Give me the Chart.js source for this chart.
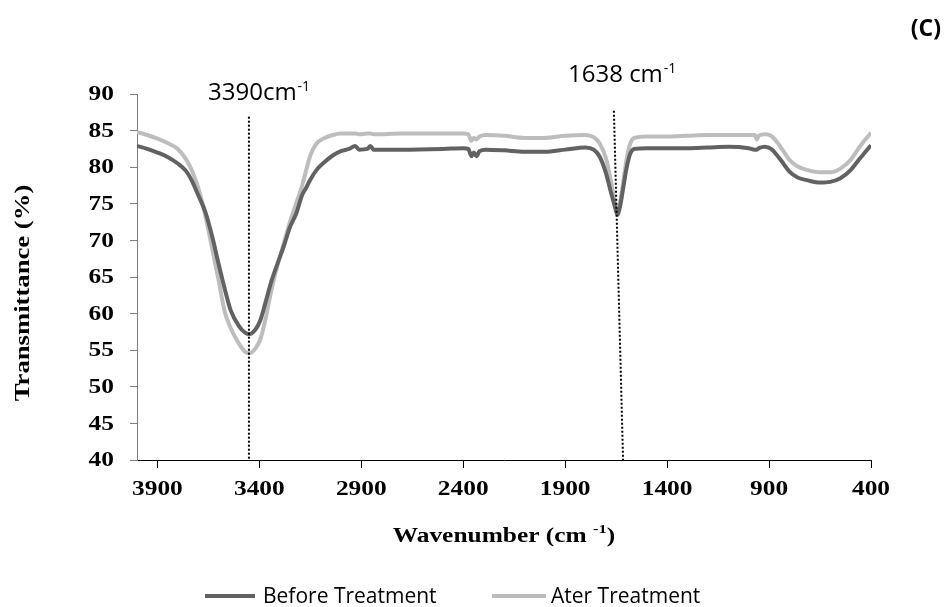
<!DOCTYPE html>
<html>
<head>
<meta charset="utf-8">
<script src="https://cdn.jsdelivr.net/npm/chart.js@4.4.1/dist/chart.umd.min.js"></script>
<style>
  html, body { margin: 0; padding: 0; background: #fff; }
  canvas { display: block; }
</style>
</head>
<body>
<canvas id="ftirChart" width="947" height="607"></canvas>
<script>
// Wavenumbers (cm-1) and transmittance (%)
const wavenumbers = [
  4000, 3950, 3900, 3850, 3800, 3760, 3730, 3700, 3665, 3630, 3600, 3570, 3540, 3500, 3470, 3450,
  3420, 3395, 3370, 3340, 3310, 3280, 3250, 3220, 3190, 3170, 3150, 3120, 3080, 3040, 3000, 2960,
  2930, 2910, 2870, 2855, 2840, 2700, 2500, 2400, 2375, 2360, 2348, 2335, 2320, 2290, 2200, 2100,
  2000, 1900, 1800, 1760, 1730, 1700, 1675, 1655, 1644, 1632, 1615, 1598, 1580, 1560, 1500, 1400,
  1300, 1200, 1100, 1000, 970, 960, 950, 920, 890, 860, 830, 800, 760, 710, 650, 600,
  550, 500, 460, 430, 400
];
const beforeTreatment = [
  82.9, 82.5, 82.0, 81.4, 80.5, 79.5, 78.1, 76.2, 73.9, 70.4, 66.8, 63.4, 60.4, 58.3, 57.4, 57.2,
  57.8, 59.1, 61.5, 64.5, 66.9, 69.2, 71.8, 73.6, 76.2, 77.2, 78.3, 79.6, 80.7, 81.6, 82.2, 82.5,
  82.9, 82.4, 82.5, 82.9, 82.4, 82.4, 82.5, 82.6, 82.5, 81.5, 82.0, 81.5, 82.2, 82.4, 82.3, 82.1,
  82.1, 82.4, 82.7, 82.4, 81.4, 79.2, 76.5, 74.5, 73.5, 74.5, 77.2, 80.0, 81.9, 82.5, 82.6, 82.6,
  82.6, 82.7, 82.8, 82.6, 82.4, 82.4, 82.6, 82.8, 82.5, 81.6, 80.5, 79.4, 78.6, 78.2, 77.9, 78.0,
  78.5, 79.6, 81.0, 82.0, 83.0
];
const afterTreatment = [
  84.8, 84.4, 83.9, 83.3, 82.5, 81.1, 79.5, 77.2, 73.4, 68.7, 64.6, 60.3, 58.0, 55.9, 54.8, 54.6,
  55.2, 56.5, 59.2, 63.3, 66.7, 69.6, 72.5, 75.0, 77.5, 79.6, 81.6, 83.2, 84.0, 84.4, 84.6, 84.6,
  84.6, 84.5, 84.6, 84.6, 84.5, 84.6, 84.6, 84.6, 84.5, 83.6, 84.0, 83.8, 84.2, 84.4, 84.3, 84.0,
  84.0, 84.3, 84.4, 84.1, 83.2, 81.2, 78.0, 75.0, 74.2, 75.0, 78.0, 81.2, 83.3, 84.0, 84.2, 84.2,
  84.3, 84.4, 84.4, 84.4, 84.4, 83.8, 84.3, 84.5, 84.3, 83.4, 82.2, 81.0, 80.1, 79.6, 79.3, 79.3,
  79.8, 81.0, 82.6, 83.7, 84.7
];
const seriesNames = ['Before Treatment', 'Ater Treatment'];
const seriesColors = ['#626262', '#bdbdbd'];

const xTickValues = [3900, 3400, 2900, 2400, 1900, 1400, 900, 400];
const yTickValues = [40, 45, 50, 55, 60, 65, 70, 75, 80, 85, 90];

// Dotted peak markers: top/bottom wavenumber and top transmittance
const peakNames = ['3390cm', '1638 cm'];
const peakTopWn = [3451, 1661];
const peakBottomWn = [3451, 1616];
const peakTopVal = [86.9, 87.7];

const serifBold = '"Liberation Serif", "Times New Roman", serif';
const sans = '"Open Sans", "Noto Sans", sans-serif';
const STRETCH = 1.27;

// Draw text stretched horizontally (the original figure is a bit wide)
function stretchedText(ctx, text, x, y, align) {
    ctx.save();
    ctx.translate(x, y);
    ctx.scale(STRETCH, 1);
    ctx.textAlign = align;
    ctx.fillText(text, 0, 0);
    ctx.restore();
}

const decorations = {
    id: 'decorations',
    afterDraw(chart) {
        const ctx = chart.ctx;
        const xs = chart.scales.x;
        const ys = chart.scales.y;
        const area = chart.chartArea;
        ctx.save();
        ctx.fillStyle = '#000';

        // tick labels
        ctx.font = 'bold 20px ' + serifBold;
        ctx.textBaseline = 'alphabetic';
        xs.ticks.forEach(t => {
            stretchedText(ctx, String(t.value), xs.getPixelForValue(t.value), area.bottom + 35, 'center');
        });
        ctx.textBaseline = 'middle';
        ys.ticks.forEach(t => {
            stretchedText(ctx, String(t.value), area.left - 23, ys.getPixelForValue(t.value) + 1, 'right');
        });

        // x axis title with superscript
        const mainTxt = 'Wavenumber (cm ';
        ctx.textBaseline = 'alphabetic';
        ctx.font = 'bold 20px ' + serifBold;
        const w1 = ctx.measureText(mainTxt).width * STRETCH;
        const w3 = ctx.measureText(')').width * STRETCH;
        ctx.font = 'bold 13px ' + serifBold;
        const w2 = ctx.measureText('-1').width * STRETCH;
        let tx = (area.left + area.right) / 2 - (w1 + w2 + w3) / 2;
        const ty = 542;
        ctx.font = 'bold 20px ' + serifBold;
        stretchedText(ctx, mainTxt, tx, ty, 'left');
        ctx.font = 'bold 13px ' + serifBold;
        stretchedText(ctx, '-1', tx + w1, ty - 9, 'left');
        ctx.font = 'bold 20px ' + serifBold;
        stretchedText(ctx, ')', tx + w1 + w2, ty, 'left');

        // y axis title
        ctx.save();
        ctx.translate(24, 293);
        ctx.rotate(-Math.PI / 2);
        ctx.font = 'bold 21px ' + serifBold;
        ctx.textBaseline = 'middle';
        stretchedText(ctx, 'Transmittance (%)', 0, 0, 'center');
        ctx.restore();

        // dotted peak markers
        ctx.save();
        ctx.strokeStyle = '#000';
        ctx.lineWidth = 2;
        ctx.setLineDash([2, 2]);
        peakTopWn.forEach((wn, i) => {
            ctx.beginPath();
            ctx.moveTo(xs.getPixelForValue(wn), ys.getPixelForValue(peakTopVal[i]));
            ctx.lineTo(xs.getPixelForValue(peakBottomWn[i]), ys.getPixelForValue(40));
            ctx.stroke();
        });
        ctx.restore();

        // peak labels
        const labelPos = [[208, 100], [568, 82]];
        peakNames.forEach((name, i) => {
            ctx.font = '24px ' + sans;
            ctx.textAlign = 'left';
            ctx.textBaseline = 'alphabetic';
            ctx.fillText(name, labelPos[i][0], labelPos[i][1]);
            const w = ctx.measureText(name).width;
            ctx.font = '14px ' + sans;
            ctx.fillText('-1', labelPos[i][0] + w + 1, labelPos[i][1] - 9);
        });

        // panel tag
        ctx.font = 'bold 23px ' + sans;
        ctx.textAlign = 'right';
        ctx.fillText('(C)', 941, 36);

        // legend
        const legendX = [[205, 255, 263], [492, 546, 551]];
        ctx.font = '21px ' + sans;
        ctx.textAlign = 'left';
        ctx.textBaseline = 'alphabetic';
        chart.data.datasets.forEach((ds, i) => {
            ctx.strokeStyle = ds.borderColor;
            ctx.lineWidth = 4;
            ctx.beginPath();
            ctx.moveTo(legendX[i][0], 596);
            ctx.lineTo(legendX[i][1], 596);
            ctx.stroke();
            ctx.fillStyle = '#000';
            ctx.fillText(ds.label, legendX[i][2], 603);
        });
        ctx.restore();
    }
};

function makeSeries(values) {
    return wavenumbers.map((wn, i) => ({ x: wn, y: values[i] }));
}

const chart = new Chart(document.getElementById('ftirChart').getContext('2d'), {
    type: 'line',
    data: {
        datasets: [beforeTreatment, afterTreatment].map((vals, i) => ({
            label: seriesNames[i],
            data: makeSeries(vals),
            borderColor: seriesColors[i],
            borderWidth: 4,
            pointRadius: 0,
            fill: false,
            cubicInterpolationMode: 'monotone'
        }))
    },
    options: {
        responsive: false,
        devicePixelRatio: 1,
        animation: false,
        layout: { padding: { left: 0, right: 76, top: 94, bottom: 0 } },
        plugins: {
            legend: { display: false },
            tooltip: { enabled: false }
        },
        scales: {
            x: {
                type: 'linear',
                reverse: true,
                min: 400,
                max: 4000,
                afterBuildTicks: s => { s.ticks = xTickValues.map(v => ({ value: v })); },
                afterFit: s => { s.height = 147; },
                ticks: { display: false },
                grid: { drawOnChartArea: false, drawTicks: true, tickLength: 8, color: '#000' },
                border: { display: true, color: '#000', width: 1 }
            },
            y: {
                min: 40,
                max: 90,
                afterBuildTicks: s => { s.ticks = yTickValues.map(v => ({ value: v })); },
                afterFit: s => { s.width = 137; },
                ticks: { display: false },
                grid: { drawOnChartArea: false, drawTicks: true, tickLength: 7, color: '#7f7f7f' },
                border: { display: true, color: '#7f7f7f', width: 1 }
            }
        }
    },
    plugins: [decorations]
});
</script>
</body>
</html>
